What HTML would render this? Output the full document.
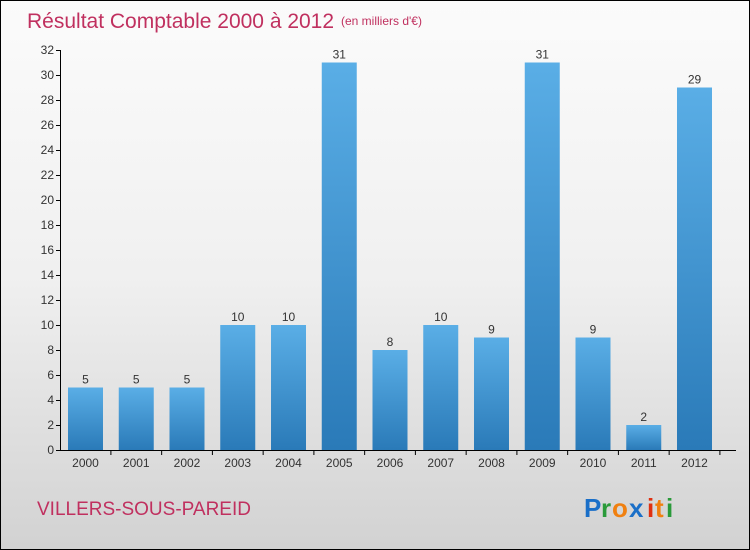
<!DOCTYPE html>
<html><head><meta charset="utf-8"><style>
body{margin:0}
#c{position:relative;width:748px;height:548px;border:1px solid #000;background:linear-gradient(#fbfbfb 0%,#f0f0f0 50%,#d2d2d2 100%);font-family:"Liberation Sans",sans-serif;overflow:hidden}
</style></head><body>
<div id="c">
<svg width="748" height="548">
<defs><linearGradient id="g" x1="0" y1="0" x2="0" y2="1"><stop offset="0" stop-color="#5aaee6"/><stop offset="1" stop-color="#2a7ab8"/></linearGradient></defs>
<text x="26" y="27" font-size="21" fill="#c0305f">Résultat Comptable 2000 à 2012</text>
<text x="340" y="24" font-size="12" fill="#c0305f">(en milliers d'€)</text>
<text x="36" y="514" font-size="19" fill="#c0305f">VILLERS-SOUS-PAREID</text>
<g font-size="26" font-weight="bold" font-family="Liberation Sans,sans-serif">
<text x="583" y="516" fill="#1a6fc8">P</text><text x="600" y="516" fill="#2a9a3a">r</text><text x="611" y="516" fill="#f08010">o</text><text x="628" y="516" fill="#1a6fc8">x</text><text x="646" y="516" fill="#e03010">i</text><text x="654" y="516" fill="#f08010">t</text><text x="665" y="516" fill="#2a9a3a">i</text></g>
<g id="axes"></g><g id="bars"></g>
</svg></div>
<script>
const categories=["2000","2001","2002","2003","2004","2005","2006","2007","2008","2009","2010","2011","2012"];
const values=[5,5,5,10,10,31,8,10,9,31,9,2,29];
const yTicks=[0,2,4,6,8,10,12,14,16,18,20,22,24,26,28,30,32];
const NS="http://www.w3.org/2000/svg";
const y=v=>449-v*12.5;
const x=i=>84.5+i*50.75;
function mk(t,a,p){const e=document.createElementNS(NS,t);for(const k in a)e.setAttribute(k,a[k]);p.appendChild(e);return e;}
const ax=document.getElementById('axes'),bg=document.getElementById('bars');
const al=mk('line',{x1:59.5,y1:y(32),x2:59.5,y2:y(0),stroke:'#000'},ax);


const xl=mk('line',{x1:59.5,y1:y(0)+.5,x2:735,y2:y(0)+.5,stroke:'#000'},ax);


yTicks.forEach(v=>{
 mk('line',{x1:55,x2:60,y1:y(v)+.5,y2:y(v)+.5,stroke:'#000'},ax);
 const t=mk('text',{x:53,y:y(v)+4,'font-size':12,'text-anchor':'end',fill:'#333'},ax);t.textContent=v;
 
 
});
categories.forEach((c,i)=>{
 mk('line',{x1:x(i)+25.4,x2:x(i)+25.4,y1:y(0),y2:y(0)+5,stroke:'#000'},ax);
 const t=mk('text',{x:x(i),y:466,'font-size':12,'text-anchor':'middle',fill:'#333'},ax);t.textContent=c;
 
 
 const r=mk('rect',{x:x(i)-17.5,y:y(values[i]),width:35,height:values[i]*12.5,fill:'url(#g)'},bg);
 
 
 const l=mk('text',{x:x(i),y:y(values[i])-4,'font-size':12,'text-anchor':'middle',fill:'#333'},bg);l.textContent=values[i];
 
 
});
</script>
</body></html>
